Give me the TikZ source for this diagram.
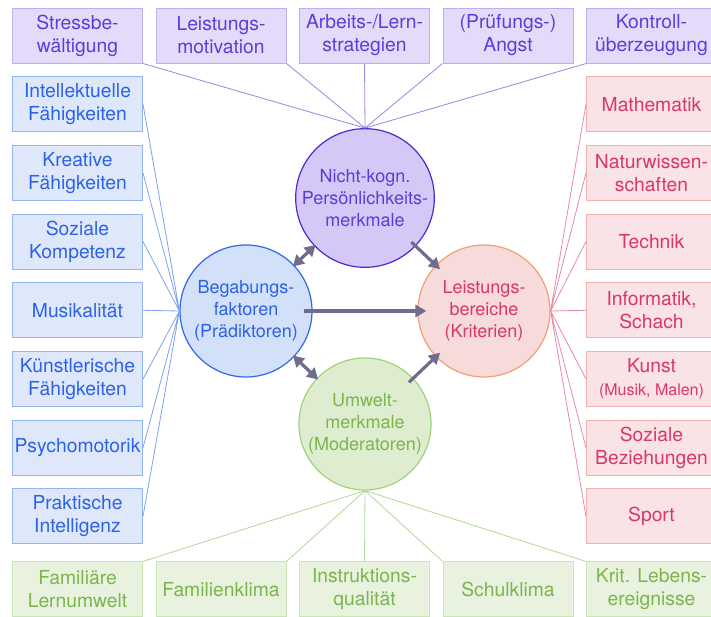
\documentclass[tikz,border=0pt]{standalone}
\usepackage{fontspec}
\setmainfont{TeX Gyre Heros}
\usepackage{xcolor}
\usepackage{tikz}
\usetikzlibrary{positioning,arrows.meta}
\definecolor{nktext}{HTML}{5A3EDB}
\definecolor{nkfill}{HTML}{E3DBF9}
\definecolor{nkrand}{HTML}{C0ACF0}
\definecolor{nkball}{HTML}{D5C8F6}
\definecolor{nkkreis}{HTML}{4A2BD0}
\definecolor{nklinie}{HTML}{9A86E0}
\definecolor{bgtext}{HTML}{2B62E6}
\definecolor{bgfill}{HTML}{DFE8FB}
\definecolor{bgrand}{HTML}{93B4F5}
\definecolor{bgball}{HTML}{D3E0F9}
\definecolor{bgkreis}{HTML}{3068EA}
\definecolor{bglinie}{HTML}{7DA2EE}
\definecolor{lbtext}{HTML}{D9366B}
\definecolor{lbfill}{HTML}{FAE3E4}
\definecolor{lbrand}{HTML}{F4B0AE}
\definecolor{lbball}{HTML}{F7DADA}
\definecolor{lbkreis}{HTML}{F2A074}
\definecolor{lblinie}{HTML}{E58AA8}
\definecolor{umtext}{HTML}{7BB64C}
\definecolor{umfill}{HTML}{E8F2DF}
\definecolor{umrand}{HTML}{CBE5B6}
\definecolor{umball}{HTML}{DEEDD0}
\definecolor{umkreis}{HTML}{A2D27A}
\definecolor{umlinie}{HTML}{B0D898}
\definecolor{pfeilgrau}{HTML}{6F6C8C}

\begin{document}
\begin{tikzpicture}[>={Triangle[length=11pt,width=12pt]},x=1pt,y=1pt,node distance=12.7pt and 12.5pt,
		every node/.style={font=\fontsize{19.3}{23}\selectfont,align=center},
		box/.style={rectangle,draw,line width=1pt,minimum width=130pt,minimum height=55pt,inner sep=2pt},
		ball/.style={circle,draw,line width=1.2pt,minimum size=132pt,inner sep=0pt,font=\fontsize{18}{22}\selectfont},
		nk/.style={fill=nkfill,draw=nkrand,text=nktext},
		bg/.style={fill=bgfill,draw=bgrand,text=bgtext},
		lb/.style={fill=lbfill,draw=lbrand,text=lbtext},
		um/.style={fill=umfill,draw=umrand,text=umtext},
		link/.style={line width=0.8pt},
		pfeil/.style={line width=3.2pt,draw=pfeilgrau}]
			\clip (0,0) rectangle (711,-616);
			% obere Reihe
			\node[box,nk] (stress) at (77.5,-35.5) {Stressbe-\\wältigung};
			\node[box,nk] (motiv) [right=of stress] {Leistungs-\\motivation};
			\node[box,nk] (lernstr) [right=of motiv] {Arbeits-/Lern-\\strategien};
			\node[box,nk] (angst) [right=of lernstr] {(Prüfungs-)\\Angst};
			\node[box,nk] (kontr) [right=of angst] {Kontroll-\\überzeugung};
			% linke Spalte
			\node[box,bg] (intell) [below=of stress] {Intellektuelle\\Fähigkeiten};
			\node[box,bg] (kreativ) [below=of intell] {Kreative\\Fähigkeiten};
			\node[box,bg] (sozkomp) [below=of kreativ] {Soziale\\Kompetenz};
			\node[box,bg] (musik) [below=of sozkomp] {Musikalität};
			\node[box,bg] (kuenstl) [below=of musik] {Künstlerische\\Fähigkeiten};
			\node[box,bg] (psycho) [below=of kuenstl] {Psychomotorik};
			\node[box,bg] (prakt) [below=of psycho] {Praktische\\Intelligenz};
			% rechte Spalte
			\node[box,lb] (mathe) [below=of kontr] {Mathematik};
			\node[box,lb] (natur) [below=of mathe] {Naturwissen-\\schaften};
			\node[box,lb] (technik) [below=of natur] {Technik};
			\node[box,lb] (inform) [below=of technik] {Informatik,\\Schach};
			\node[box,lb] (kunst) [below=of inform] {Kunst\\{\fontsize{16}{20}\selectfont(Musik, Malen)}};
			\node[box,lb] (sozbez) [below=of kunst] {Soziale\\Beziehungen};
			\node[box,lb] (sport) [below=of sozbez] {Sport};
			% untere Reihe
			\node[box,um] (famlern) [below=17pt of prakt] {Familiäre\\Lernumwelt};
			\node[box,um] (famklima) [right=of famlern] {Familienklima};
			\node[box,um] (instr) [right=of famklima] {Instruktions-\\qualität};
			\node[box,um] (schule) [right=of instr] {Schulklima};
			\node[box,um] (krit) [right=of schule] {Krit. Lebens-\\ereignisse};
			% Kreise
			\node[ball,fill=bgball,draw=bgkreis,text=bgtext] (begab) at (246,-311) {Begabungs-\\faktoren\\(Prädiktoren)};
			\node[ball,fill=lbball,draw=lbkreis,text=lbtext] (leist) at (484,-311) {Leistungs-\\bereiche\\(Kriterien)};
			\node[ball,fill=nkball,draw=nkkreis,text=nktext] (nichtk) at (365,-198) {Nicht-kogn.\\Persönlichkeits-\\merkmale};
			\node[ball,fill=umball,draw=umkreis,text=umtext] (umwelt) at (365,-424) {Umwelt-\\merkmale\\(Moderatoren)};

			\draw[link,nklinie] (nichtk.north) -- (stress.south east)
					(nichtk.north) -- (motiv.south east)
					(nichtk.north) -- (lernstr.south)
					(nichtk.north) -- (angst.south west)
					(nichtk.north) -- (kontr.south west);
			\draw[link,bglinie] (begab.west) -- (intell.east)
					(begab.west) -- (kreativ.east)
					(begab.west) -- (sozkomp.east)
					(begab.west) -- (musik.east)
					(begab.west) -- (kuenstl.east)
					(begab.west) -- (psycho.east)
					(begab.west) -- (prakt.east);
			\draw[link,lblinie] (leist.east) -- (mathe.west)
					(leist.east) -- (natur.west)
					(leist.east) -- (technik.west)
					(leist.east) -- (inform.west)
					(leist.east) -- (kunst.west)
					(leist.east) -- (sozbez.west)
					(leist.east) -- (sport.west);
			\draw[link,umlinie] (umwelt.south) -- (famlern.north east)
					(umwelt.south) -- (famklima.north east)
					(umwelt.south) -- (instr.north)
					(umwelt.south) -- (schule.north west)
					(umwelt.south) -- (krit.north west);

			\draw[pfeil,->,shorten <=-9pt,shorten >=-9pt] (begab) -- (leist);
			\draw[pfeil,->,shorten <=-6pt,shorten >=-6pt] (nichtk) -- (leist);
			\draw[pfeil,->,shorten <=-6pt,shorten >=-6pt] (umwelt) -- (leist);
			\draw[pfeil,<->,shorten <=-2pt,shorten >=-2pt] (begab) -- (nichtk);
			\draw[pfeil,<->,shorten <=-2pt,shorten >=-2pt] (begab) -- (umwelt);
\end{tikzpicture}
\end{document}
